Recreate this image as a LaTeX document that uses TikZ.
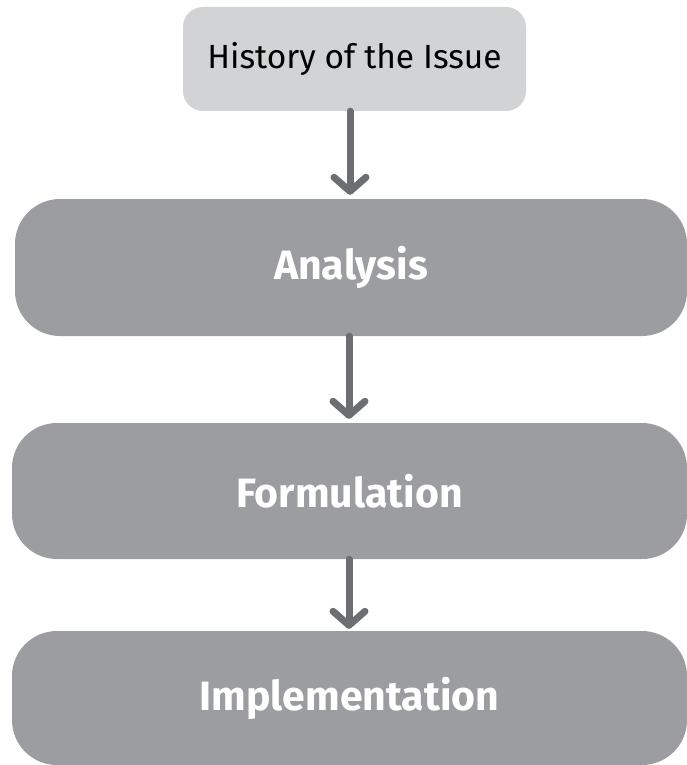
\documentclass[tikz,border=0pt]{standalone}
\usepackage{fontspec}
\setmainfont{Fira Sans}
\usetikzlibrary{arrows.meta}
\definecolor{lightbox}{HTML}{D1D3D4}
\definecolor{darkbox}{HTML}{9C9DA1}
\definecolor{arrowgray}{HTML}{6D6E71}
\tikzset{
  topbox/.style={rectangle, rounded corners=20pt, fill=lightbox, inner sep=0pt,
    minimum width=343pt, minimum height=104pt, text=black, font=\fontsize{33.5}{38}\selectfont},
  stagebox/.style={rectangle, rounded corners=45pt, fill=darkbox, inner sep=0pt,
    minimum width=675pt, text=white, font=\fontsize{41}{46}\selectfont\bfseries},
  flowarrow/.style={draw=arrowgray, line width=7pt, line cap=round,
    -{Straight Barb[length=14pt,width=32pt,round]}, shorten >=4pt}
}
\begin{document}
\begin{tikzpicture}[x=1pt,y=-1pt]
\useasboundingbox (0,0) rectangle (687,765);
\node[topbox] (hist) at (354.5,59) {History of the Issue};
\node[stagebox, minimum width=672pt, minimum height=137pt] (ana) at (351,267.5) {Analysis};
\node[stagebox, minimum height=136pt] (form) at (349.5,491) {Formulation};
\node[stagebox, minimum height=134pt] (impl) at (349.5,698) {Implementation};
\draw[flowarrow] (hist.south -| 350,0) -- (ana.north -| 350,0);
\draw[flowarrow] (ana.south -| 349,0) -- (form.north -| 349,0);
\draw[flowarrow, shorten >=2pt] (form.south -| 349,0) -- (impl.north -| 349,0);
\end{tikzpicture}
\end{document}
